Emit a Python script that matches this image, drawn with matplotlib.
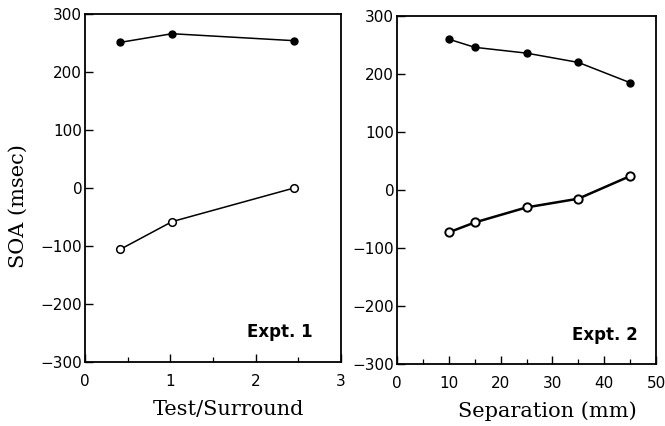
import matplotlib
matplotlib.use("Agg")
import matplotlib.pyplot as plt
from matplotlib.ticker import MultipleLocator

# Expt. 1: SOA vs test/surround ratio
ratio = [0.41, 1.02, 2.45]
soa1_filled = [251, 266, 254]
soa1_open = [-106, -58, 0]

# Expt. 2: SOA vs separation
separation = [10, 15, 25, 35, 45]
soa2_filled = [260, 246, 236, 220, 185]
soa2_open = [-73, -56, -30, -15, 24]

yticks = [-300, -200, -100, 0, 100, 200, 300]
ytick_labels = ['\u2212300', '\u2212200', '\u2212100', '0', '100', '200', '300']

fig = plt.figure(figsize=(6.65, 4.26), dpi=100)
ax1 = fig.add_axes([85 / 665, 64 / 426, 256 / 665, 348 / 426])
ax2 = fig.add_axes([397 / 665, 62 / 426, 259 / 665, 348 / 426])


def style(ax, xmax, xmajor, xminor, label, lx, tag, tx, ty):
    ax.set_xlim(0, xmax)
    ax.set_ylim(-300, 300)
    ax.xaxis.set_major_locator(MultipleLocator(xmajor))
    ax.xaxis.set_minor_locator(MultipleLocator(xminor))
    ax.set_yticks(yticks)
    ax.set_yticklabels(ytick_labels)
    ax.tick_params(axis='both', which='major', direction='in', length=6,
                   width=1.0, labelsize=11)
    ax.tick_params(axis='x', which='major', pad=9)
    ax.tick_params(axis='y', which='major', pad=2)
    ax.tick_params(axis='x', which='minor', direction='in', length=3.5, width=0.9)
    for sp in ax.spines.values():
        sp.set_linewidth(1.3)
    ax.set_xlabel(label, family='DejaVu Serif', fontsize=15)
    ax.xaxis.set_label_coords(lx, -0.108)
    ax.text(tx, ty, tag, transform=ax.transAxes, ha='right', va='center',
            fontsize=12, fontweight='bold', family='DejaVu Sans')


ax1.plot(ratio, soa1_filled, color='black', lw=1.1, marker='o', ms=5,
         mfc='black', mec='black')
ax1.plot(ratio, soa1_open, color='black', lw=1.1, marker='o', ms=5.5,
         mfc='white', mec='black', mew=1.1)
style(ax1, 3, 1, 0.5, 'Test/Surround', 0.56, 'Expt. 1', 0.89, 0.086)
ax1.set_ylabel('SOA (msec)', family='DejaVu Serif', fontsize=15)
ax1.yaxis.set_label_coords(-0.223, 0.448)

ax2.plot(separation, soa2_filled, color='black', lw=1.1, marker='o', ms=5,
         mfc='black', mec='black')
ax2.plot(separation, soa2_open, color='black', lw=1.8, marker='o', ms=6,
         mfc='white', mec='black', mew=1.4)
style(ax2, 50, 10, 5, 'Separation (mm)', 0.58, 'Expt. 2', 0.929, 0.083)

fig.savefig('out.png', dpi=100)
